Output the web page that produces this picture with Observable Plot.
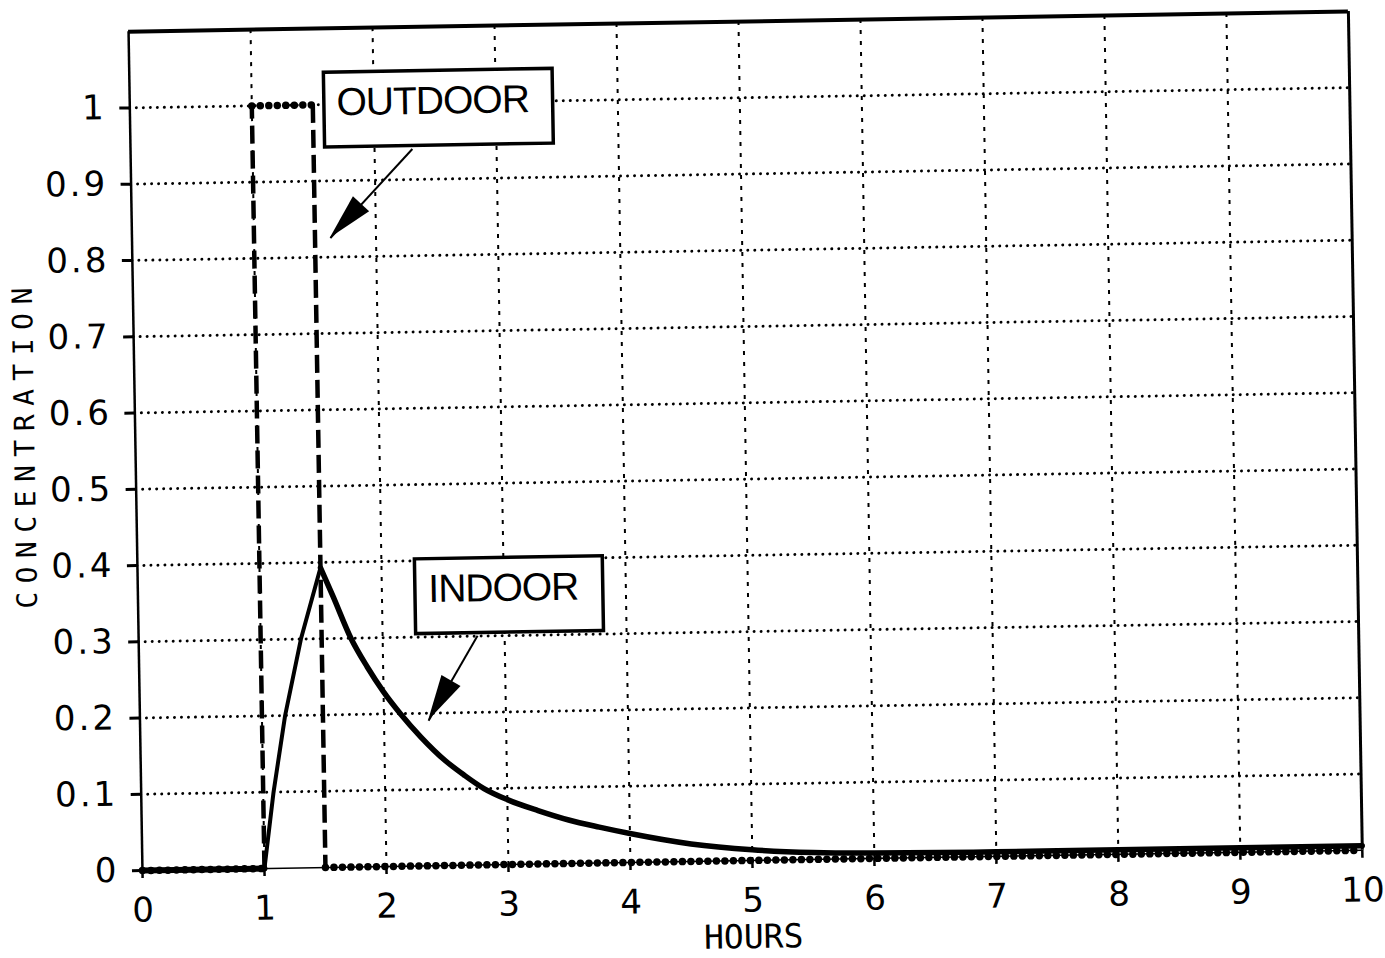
<!DOCTYPE html>
<html>
<head>
<meta charset="utf-8">
<script src="https://cdn.jsdelivr.net/npm/d3@7"></script>
<script src="https://cdn.jsdelivr.net/npm/@observablehq/plot@0.6"></script>
<style>
  html, body { margin: 0; padding: 0; background: #fff; }
  #chart { width: 1385px; height: 958px; overflow: hidden; }
  g[aria-label="y-axis tick label"] text, g[aria-label="y-axis"] text { font-family: 'DejaVu Sans', sans-serif; font-size: 34px; letter-spacing: 3px; }
  g[aria-label="x-axis tick label"] text, g[aria-label="x-axis"] text { font-family: 'DejaVu Sans', sans-serif; font-size: 34px; }
  g[aria-label="y-axis tick"] path, g[aria-label="y-axis tick"] line, g[aria-label="y-axis"] line { stroke-width: 3px; }
  g[aria-label="x-axis tick"] path, g[aria-label="x-axis tick"] line, g[aria-label="x-axis"] line { stroke-width: 2.5px; }
</style>
</head>
<body>
<div id="chart"></div>
<script>
// ---- data ----
const xDomain = [0, 10];
const yDomain = [0, 1.1];
const xTickValues = [0, 1, 2, 3, 4, 5, 6, 7, 8, 9, 10];
const xTickLabels = ["0", "1", "2", "3", "4", "5", "6", "7", "8", "9", "10"];
const yTickValues = [0, 0.1, 0.2, 0.3, 0.4, 0.5, 0.6, 0.7, 0.8, 0.9, 1];
const yTickLabels = ["0", "0.1", "0.2", "0.3", "0.4", "0.5", "0.6", "0.7", "0.8", "0.9", "1"];
const xGridValues = [1, 2, 3, 4, 5, 6, 7, 8, 9];
const yGridValues = [0.1, 0.2, 0.3, 0.4, 0.5, 0.6, 0.7, 0.8, 0.9, 1];
const xTitle = "HOURS";
const yTitle = "CONCENTRATION";

// outdoor concentration (step pulse)
const outdoorTime  = [0, 1, 1, 1.5, 1.5, 10];
const outdoorValue = [0, 0, 1, 1,   0,   0];

// indoor concentration
const indoorTime  = [0, 1.0, 1.085, 1.19, 1.33, 1.5,   1.6,   1.74, 1.87,  2.0,   2.135, 2.3,   2.5,   2.65,  2.81, 3.0,   3.25,  3.5,   3.75,  4.0,   4.5,   5.0,   5.5,   6.0,   7.0,   8.0,   9.0,   10.0];
const indoorValue = [0, 0,   0.1,   0.2,  0.3,  0.393, 0.355, 0.30, 0.262, 0.229, 0.20,  0.169, 0.137, 0.118, 0.10, 0.085, 0.070, 0.057, 0.047, 0.038, 0.023, 0.014, 0.009, 0.007, 0.006, 0.006, 0.006, 0.006];

// annotations (in data units)
const annLabels = ["OUTDOOR", "INDOOR"];
const boxX1 = [1.595, 2.275];
const boxX2 = [3.47, 3.815];
const boxY1 = [0.944, 0.304];
const boxY2 = [1.042, 0.402];
const arrowFromX = [2.31, 2.778];
const arrowFromY = [0.940, 0.3006];
const arrowToX = [1.626, 2.365];
const arrowToY = [0.825, 0.190];

// ---- derived tables ----
const indoor = indoorTime.map((t, i) => ({t, v: indoorValue[i]}));
const iPeak = d3.maxIndex(indoorValue);
const iStart = d3.max(d3.range(iPeak), i => indoorValue[i] === 0 ? i : -1);
const indoorFlat = indoor.slice(0, iStart + 1);
const indoorRise = indoor.slice(iStart, iPeak + 1);
const indoorDecay = indoor.slice(iPeak);

const outdoorSegs = outdoorTime.slice(1).map((t, i) => ({
  x1: outdoorTime[i], y1: outdoorValue[i], x2: t, y2: outdoorValue[i + 1],
  vertical: outdoorTime[i] === t
}));
const boxes = annLabels.map((label, i) => ({
  label, x1: boxX1[i], x2: boxX2[i], y1: boxY1[i], y2: boxY2[i],
  cx: (boxX1[i] + boxX2[i]) / 2, cy: (boxY1[i] + boxY2[i]) / 2
}));
const arrows = annLabels.map((label, i) => ({
  x1: arrowFromX[i], y1: arrowFromY[i], x2: arrowToX[i], y2: arrowToY[i]
}));

const HEAD_LEN = 46, HEAD_HALF = 11;
function arrowHeads(index, scales) {
  const g = d3.create("svg:g").attr("aria-label", "arrowheads");
  for (const a of arrows) {
    const x0 = scales.x(a.x1), y0 = scales.y(a.y1);
    const x1 = scales.x(a.x2), y1 = scales.y(a.y2);
    const len = Math.hypot(x1 - x0, y1 - y0);
    const ux = (x1 - x0) / len, uy = (y1 - y0) / len;
    const bx = x1 - ux * HEAD_LEN, by = y1 - uy * HEAD_LEN;
    g.append("path")
      .attr("d", `M${x1},${y1}L${bx - uy * HEAD_HALF},${by + ux * HEAD_HALF}L${bx + uy * HEAD_HALF},${by - ux * HEAD_HALF}Z`)
      .attr("fill", "black");
  }
  return g.node();
}

const chart = Plot.plot({
  width: 1385,
  height: 958,
  marginLeft: 135,
  marginRight: 30,
  marginTop: 21,
  marginBottom: 98,
  style: {fontFamily: "'DejaVu Sans Mono', monospace", fontSize: "31px", color: "black", background: "white"},
  x: {domain: xDomain, ticks: xTickValues, tickFormat: (d) => xTickLabels[xTickValues.indexOf(d)], tickSize: 8, tickPadding: 19, label: null},
  y: {domain: yDomain, ticks: yTickValues, tickFormat: (d) => yTickLabels[yTickValues.indexOf(d)], tickSize: 10, tickPadding: 13, label: null},
  marks: [
    // grid
    Plot.ruleY(yGridValues, {stroke: "black", strokeWidth: 3, strokeDasharray: "0,7", strokeLinecap: "round"}),
    Plot.ruleX(xGridValues, {stroke: "black", strokeWidth: 2, strokeDasharray: "4,7"}),
    // frame
    Plot.ruleY([yDomain[0]], {stroke: "black", strokeWidth: 1.5}),
    Plot.ruleY([yDomain[1]], {stroke: "black", strokeWidth: 4}),
    Plot.ruleX([xDomain[0]], {stroke: "black", strokeWidth: 2.5}),
    Plot.ruleX([xDomain[1]], {stroke: "black", strokeWidth: 3}),
    // outdoor
    Plot.link(outdoorSegs.filter(d => !d.vertical), {x1: "x1", y1: "y1", x2: "x2", y2: "y2", stroke: "black", strokeWidth: 7.5, strokeDasharray: "0,8.5", strokeLinecap: "round"}),
    Plot.link(outdoorSegs.filter(d => d.vertical), {x1: "x1", y1: "y1", x2: "x2", y2: "y2", stroke: "black", strokeWidth: 4.5, strokeDasharray: "18,7"}),
    // indoor
    Plot.line(indoorFlat, {x: "t", y: "v", stroke: "black", strokeWidth: 6}),
    Plot.line(indoorRise, {x: "t", y: "v", stroke: "black", strokeWidth: 4, strokeLinejoin: "round"}),
    Plot.line(indoorDecay, {x: "t", y: "v", stroke: "black", strokeWidth: 5.5, curve: "monotone-x", strokeLinejoin: "round"}),
    // annotation arrows
    Plot.link(arrows, {x1: "x1", y1: "y1", x2: "x2", y2: "y2", stroke: "black", strokeWidth: 2}),
    arrowHeads,
    // annotation boxes
    Plot.rect(boxes, {x1: "x1", x2: "x2", y1: "y1", y2: "y2", fill: "white", stroke: "black", strokeWidth: 3.5}),
    Plot.text(boxes, {x: "cx", y: "cy", text: "label", dx: -6, dy: -7, fontSize: 39, fontFamily: "'Liberation Sans', Arial, sans-serif", fill: "black"}),
    // axis titles
    Plot.text([xTitle], {x: (xDomain[0] + xDomain[1]) / 2, y: yDomain[0], text: d => d, dy: 77, fontSize: 33, fill: "black"}),
    Plot.text([yTitle], {frameAnchor: "left", textAnchor: "middle", text: d => d, rotate: -90, dx: -110, dy: -9, fontSize: 28, fill: "black"})
  ]
});
// letter spacing of the plotter-style lettering
d3.select(chart).selectAll("text")
  .filter(function() { return this.textContent === yTitle; })
  .style("letter-spacing", "8.5px");
d3.select(chart).selectAll("text")
  .filter(function() { return annLabels.includes(this.textContent); })
  .style("letter-spacing", "-1px");
chart.style.transformOrigin = "745px 445px";
chart.style.transform = "rotate(-0.95deg)";
document.getElementById("chart").appendChild(chart);
</script>
</body>
</html>
